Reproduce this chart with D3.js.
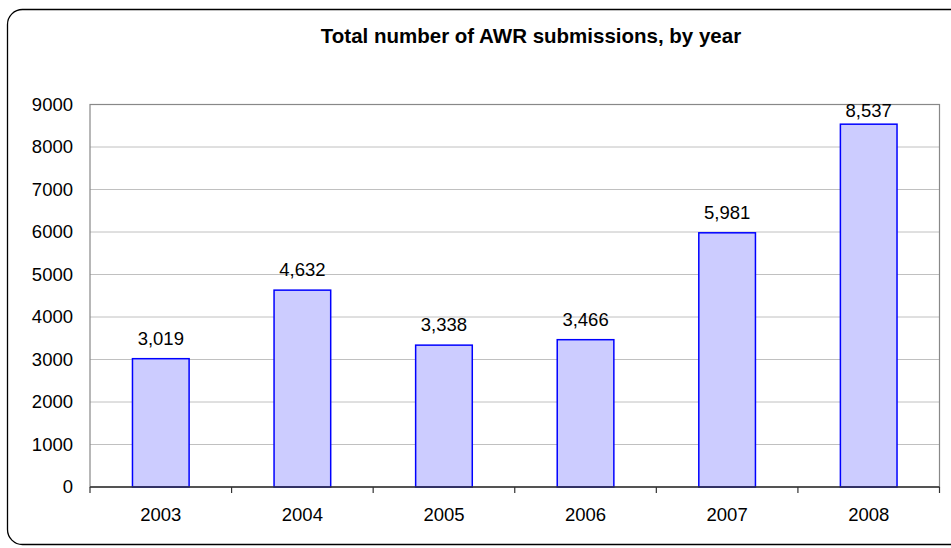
<!DOCTYPE html>
<html>
<head>
<meta charset="utf-8">
<script src="https://cdn.jsdelivr.net/npm/d3@7"></script>
<style>
  body { margin: 0; background: #fff; }
  text { font-family: "Liberation Sans", Arial, sans-serif; }
</style>
</head>
<body>
<div id="chart"></div>
<script>
// data
var years = ['2003', '2004', '2005', '2006', '2007', '2008'];
var submissions = [3019, 4632, 3338, 3466, 5981, 8537];
var yTicks = [0, 1000, 2000, 3000, 4000, 5000, 6000, 7000, 8000, 9000];

var width = 951;
var height = 548;

var plotLeft = 90;
var plotRight = 939.5;
var plotTop = 104.5;
var plotBottom = 487;

var fontSize = '18.5px';

var svg = d3.select('#chart')
		.append('svg')
		.attr('width', width)
		.attr('height', height);

// outer frame
svg.append('rect')
		.attr('x', 7.5)
		.attr('y', 9.5)
		.attr('width', 960)
		.attr('height', 535)
		.attr('rx', 15)
		.attr('fill', 'none')
		.attr('stroke', '#000')
		.attr('stroke-width', 1.3);

var x = d3.scaleBand()
		.domain(years)
		.range([plotLeft, plotRight])
		.paddingInner(0.6)
		.paddingOuter(0.3);

var y = d3.scaleLinear()
		.domain([0, 9000])
		.range([plotBottom, plotTop]);

// gridlines
svg.append('g')
		.selectAll('line')
		.data(yTicks.filter(function (d) { return d > 0 && d < 9000; }))
		.enter()
		.append('line')
		.attr('x1', plotLeft)
		.attr('x2', plotRight)
		.attr('y1', function (d) { return y(d); })
		.attr('y2', function (d) { return y(d); })
		.attr('stroke', '#c0c0c0')
		.attr('stroke-width', 1);

// plot border
svg.append('rect')
		.attr('x', plotLeft)
		.attr('y', plotTop)
		.attr('width', plotRight - plotLeft)
		.attr('height', plotBottom - plotTop)
		.attr('fill', 'none')
		.attr('stroke', '#888')
		.attr('stroke-width', 1.2);

// y axis labels
var yAxis = d3.axisLeft(y)
		.tickValues(yTicks)
		.tickSize(0)
		.tickPadding(17)
		.tickFormat(d3.format('d'));

var gy = svg.append('g')
		.attr('transform', 'translate(' + plotLeft + ',0)')
		.call(yAxis);
gy.select('.domain').remove();
gy.selectAll('text')
		.attr('font-size', fontSize)
		.attr('font-family', '"Liberation Sans", Arial, sans-serif')
		.attr('fill', '#000');

// bars
svg.append('g')
		.selectAll('rect')
		.data(submissions)
		.enter()
		.append('rect')
		.attr('x', function (d, i) { return x(years[i]); })
		.attr('y', function (d) { return y(d); })
		.attr('width', x.bandwidth())
		.attr('height', function (d) { return plotBottom - y(d); })
		.attr('fill', '#ccccff')
		.attr('stroke', '#0000ff')
		.attr('stroke-width', 1.5);

// value labels
svg.append('g')
		.selectAll('text')
		.data(submissions)
		.enter()
		.append('text')
		.attr('x', function (d, i) { return x(years[i]) + x.bandwidth() / 2; })
		.attr('y', function (d) { return Math.max(y(d) - 14, 117); })
		.attr('text-anchor', 'middle')
		.attr('font-size', fontSize)
		.attr('fill', '#000')
		.text(d3.format(','));

// x axis
var xBreaks = d3.range(years.length + 1).map(function (i) { return plotLeft + i * (plotRight - plotLeft) / years.length; });

svg.append('line')
		.attr('x1', plotLeft)
		.attr('x2', plotRight)
		.attr('y1', plotBottom)
		.attr('y2', plotBottom)
		.attr('stroke', '#333')
		.attr('stroke-width', 1.5);

svg.append('g')
		.selectAll('line')
		.data(xBreaks)
		.enter()
		.append('line')
		.attr('x1', function (d) { return d; })
		.attr('x2', function (d) { return d; })
		.attr('y1', plotBottom)
		.attr('y2', plotBottom + 6)
		.attr('stroke', '#333')
		.attr('stroke-width', 1.2);

svg.append('g')
		.selectAll('text')
		.data(years)
		.enter()
		.append('text')
		.attr('x', function (d) { return x(d) + x.bandwidth() / 2; })
		.attr('y', 521)
		.attr('text-anchor', 'middle')
		.attr('font-size', fontSize)
		.attr('fill', '#000')
		.text(function (d) { return d; });

// title
svg.append('text')
		.attr('x', 531)
		.attr('y', 43)
		.attr('text-anchor', 'middle')
		.attr('font-size', '20.5px')
		.attr('font-weight', 'bold')
		.attr('fill', '#000')
		.text('Total number of AWR submissions, by year');
</script>
</body>
</html>
